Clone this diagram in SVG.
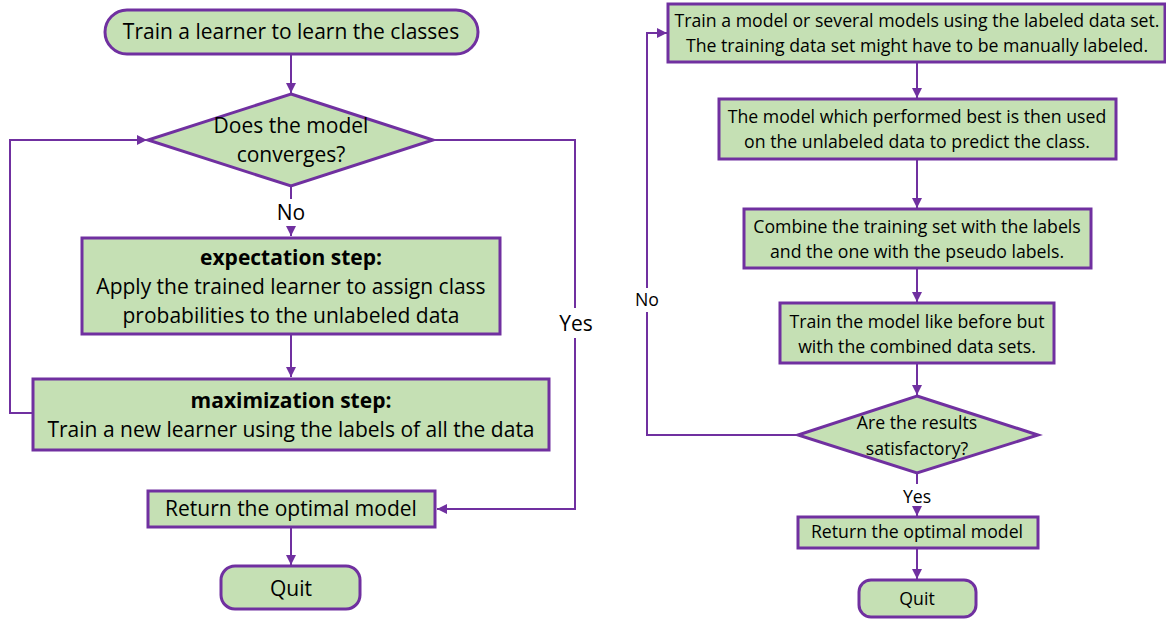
<svg xmlns="http://www.w3.org/2000/svg" width="1166" height="620" viewBox="0 0 1166 620">
  <defs>
    <marker id="arrow" viewBox="0 0 10 10" refX="10" refY="5" markerWidth="10" markerHeight="10" markerUnits="userSpaceOnUse" orient="auto">
      <path d="M0,0 L10,5 L0,10 Z" fill="#7030A0"/>
    </marker>
    <style>
      .shape { fill: #C5E0B4; stroke: #7030A0; stroke-width: 3; }
      .link { fill: none; stroke: #7030A0; stroke-width: 2; }
      text { font-family: "Open Sans", Lato, "Liberation Sans", sans-serif; fill: #000; text-anchor: middle; }
      .big { font-size: 21px; }
      .small { font-size: 17.7px; }
      .bold { font-weight: bold; }
    </style>
  </defs>
  <rect width="1166" height="620" fill="#fff"/>

  <!-- connectors -->
  <g id="connectors">
    <!-- left flow -->
    <line class="link" x1="291" y1="55" x2="291" y2="93" marker-end="url(#arrow)"/>
    <line class="link" x1="291" y1="186" x2="291" y2="199"/>
    <line class="link" x1="291" y1="226" x2="291" y2="236" marker-end="url(#arrow)"/>
    <line class="link" x1="291" y1="335" x2="291" y2="377" marker-end="url(#arrow)"/>
    <polyline class="link" points="32,413 10,413 10,140 147,140" marker-end="url(#arrow)"/>
    <polyline class="link" points="433,140 575,140 575,308"/>
    <polyline class="link" points="575,338 575,509 437,509" marker-end="url(#arrow)"/>
    <line class="link" x1="291" y1="528" x2="291" y2="565" marker-end="url(#arrow)"/>
    <!-- right flow -->
    <line class="link" x1="917" y1="63" x2="917" y2="98" marker-end="url(#arrow)"/>
    <line class="link" x1="917" y1="160" x2="917" y2="208" marker-end="url(#arrow)"/>
    <line class="link" x1="917" y1="269" x2="917" y2="302" marker-end="url(#arrow)"/>
    <line class="link" x1="917" y1="364" x2="917" y2="395" marker-end="url(#arrow)"/>
    <polyline class="link" points="798,435 647,435 647,312"/>
    <polyline class="link" points="647,288 647,33 667,33" marker-end="url(#arrow)"/>
    <line class="link" x1="917" y1="473" x2="917" y2="484"/>
    <line class="link" x1="917" y1="508" x2="917" y2="516" marker-end="url(#arrow)"/>
    <line class="link" x1="917" y1="549" x2="917" y2="579" marker-end="url(#arrow)"/>
    <!-- branch labels -->
    <text class="big" x="291" y="220">No</text>
    <text class="big" x="576" y="331">Yes</text>
    <text class="small" x="647" y="306">No</text>
    <text class="small" x="917" y="503">Yes</text>
  </g>

  <!-- left chart -->
  <g id="start">
    <rect class="shape" x="105" y="10" width="373" height="44" rx="22"/>
    <text class="big" x="291" y="39">Train a learner to learn the classes</text>
  </g>
  <g id="converge">
    <polygon class="shape" points="291,94 433,140 291,186 148,140"/>
    <text class="big" x="291" y="133">Does the model</text>
    <text class="big" x="291" y="162">converges?</text>
  </g>
  <g id="expectation">
    <rect class="shape" x="82" y="238" width="418" height="96"/>
    <text class="big bold" x="291" y="265">expectation step:</text>
    <text class="big" x="291" y="294">Apply the trained learner to assign class</text>
    <text class="big" x="291" y="323">probabilities to the unlabeled data</text>
  </g>
  <g id="maximization">
    <rect class="shape" x="33" y="379" width="516" height="71"/>
    <text class="big bold" x="291" y="408">maximization step:</text>
    <text class="big" x="291" y="437">Train a new learner using the labels of all the data</text>
  </g>
  <g id="return-left">
    <rect class="shape" x="148" y="491" width="287" height="36"/>
    <text class="big" x="291" y="516">Return the optimal model</text>
  </g>
  <g id="quit-left">
    <rect class="shape" x="221" y="566" width="139" height="43" rx="14"/>
    <text class="big" x="291" y="596">Quit</text>
  </g>

  <!-- right chart -->
  <g id="train-models">
    <rect class="shape" x="668" y="4" width="497" height="58"/>
    <text class="small" x="917" y="27">Train a model or several models using the labeled data set.</text>
    <text class="small" x="917" y="52">The training data set might have to be manually labeled.</text>
  </g>
  <g id="predict">
    <rect class="shape" x="719" y="99" width="397" height="60"/>
    <text class="small" x="917" y="123">The model which performed best is then used</text>
    <text class="small" x="917" y="148">on the unlabeled data to predict the class.</text>
  </g>
  <g id="combine">
    <rect class="shape" x="744" y="209" width="347" height="59"/>
    <text class="small" x="917" y="233">Combine the training set with the labels</text>
    <text class="small" x="917" y="258">and the one with the pseudo labels.</text>
  </g>
  <g id="retrain">
    <rect class="shape" x="780" y="303" width="274" height="60"/>
    <text class="small" x="917" y="328">Train the model like before but</text>
    <text class="small" x="917" y="353">with the combined data sets.</text>
  </g>
  <g id="satisfied">
    <polygon class="shape" points="917,396 1038,435 917,473 798,435"/>
    <text class="small" x="917" y="429">Are the results</text>
    <text class="small" x="917" y="455">satisfactory?</text>
  </g>
  <g id="return-right">
    <rect class="shape" x="798" y="517" width="240" height="31"/>
    <text class="small" x="917" y="538">Return the optimal model</text>
  </g>
  <g id="quit-right">
    <rect class="shape" x="859" y="580" width="117" height="37" rx="12"/>
    <text class="small" x="917" y="605">Quit</text>
  </g>
</svg>
